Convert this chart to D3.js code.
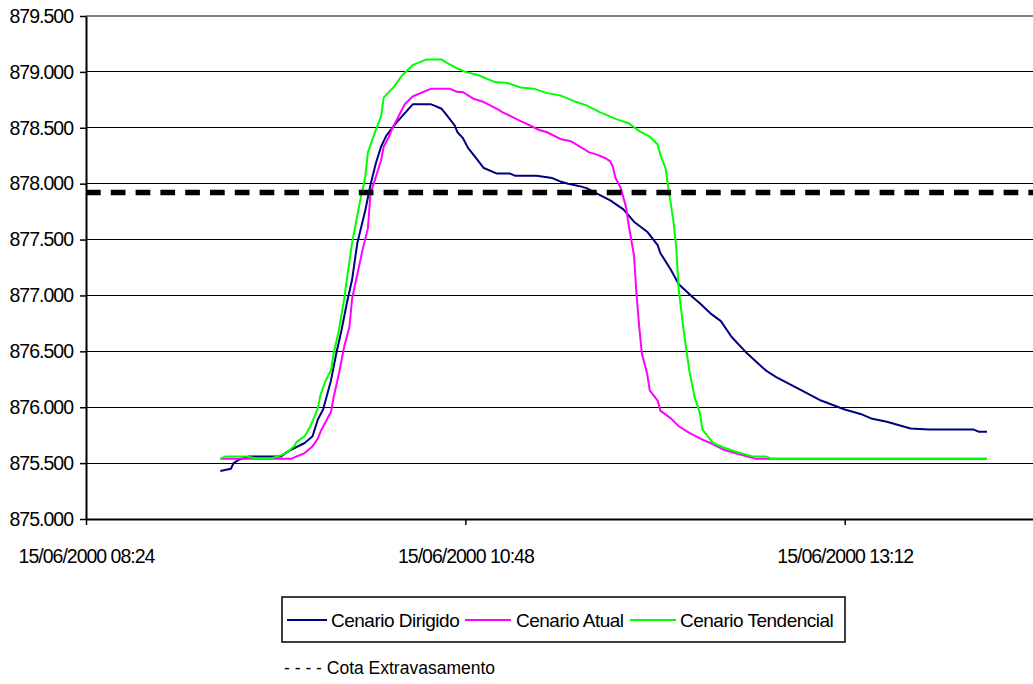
<!DOCTYPE html>
<html><head><meta charset="utf-8">
<script src="https://cdn.jsdelivr.net/npm/d3@7"></script>
<style>
html,body{margin:0;padding:0;background:#fff;}
svg{display:block;font-family:"Liberation Sans",Arial,sans-serif;}
</style></head><body>
<svg id="chart" width="1033" height="684"></svg>
<script>
// ---------------- data ----------------
const dateStr = "2000-06-15";
const xTickLabels = ["08:24", "10:48", "13:12"];
const xDomain = ["08:24", "14:24"];
const yTickValues = [875.0, 875.5, 876.0, 876.5, 877.0, 877.5, 878.0, 878.5, 879.0, 879.5];
const cotaExtravasamento = 877.92;
const seriesNames = ["Cenario Dirigido", "Cenario Atual", "Cenario Tendencial"];
const refLabel = "- - - - Cota Extravasamento";

const dirigidoTimes = ["09:15","09:19","09:20","09:22","09:26","09:38","09:41","09:47","09:50","09:52","09:54","09:57","09:59","10:01","10:03","10:05","10:07","10:10","10:12","10:14","10:16","10:18","10:22","10:28","10:35","10:36","10:39","10:41","10:44","10:45","10:47","10:49","10:52","10:55","11:00","11:05","11:07","11:15","11:21","11:24","11:27","11:31","11:34","11:38","11:43","11:48","11:52","11:57","12:01","12:02","12:06","12:09","12:14","12:17","12:21","12:25","12:29","12:35","12:42","12:46","12:54","13:03","13:12","13:18","13:22","13:28","13:37","13:44","14:01","14:03","14:06"];
const dirigidoValues = [875.43,875.45,875.50,875.53,875.56,875.56,875.61,875.68,875.74,875.89,875.98,876.24,876.48,876.69,876.93,877.14,877.47,877.76,877.99,878.18,878.33,878.43,878.55,878.71,878.71,878.70,878.67,878.61,878.52,878.46,878.41,878.32,878.23,878.14,878.09,878.09,878.07,878.07,878.05,878.02,878.00,877.98,877.96,877.91,877.85,877.77,877.66,877.57,877.45,877.38,877.23,877.10,876.99,876.93,876.84,876.77,876.63,876.48,876.33,876.27,876.17,876.06,875.98,875.94,875.90,875.87,875.81,875.80,875.80,875.78,875.78];

const atualTimes = ["09:15","09:42","09:44","09:47","09:50","09:52","09:53","09:55","09:57","09:58","10:00","10:02","10:04","10:05","10:09","10:11","10:12","10:14","10:16","10:17","10:19","10:20","10:25","10:28","10:35","10:42","10:45","10:47","10:51","10:55","11:00","11:02","11:09","11:11","11:16","11:19","11:24","11:28","11:33","11:35","11:38","11:41","11:43","11:44","11:45","11:47","11:49","11:50","11:52","11:53","11:54","11:55","11:57","11:58","12:01","12:02","12:06","12:09","12:13","12:18","12:21","12:26","12:32","12:38","14:06"];
const atualValues = [875.54,875.54,875.56,875.59,875.65,875.72,875.78,875.87,875.96,876.09,876.30,876.54,876.72,876.97,877.41,877.60,877.91,878.06,878.21,878.33,878.42,878.48,878.71,878.78,878.85,878.85,878.82,878.82,878.76,878.73,878.67,878.64,878.56,878.54,878.48,878.46,878.40,878.38,878.31,878.28,878.26,878.23,878.20,878.15,878.05,877.96,877.79,877.63,877.36,877.00,876.72,876.48,876.30,876.15,876.06,875.97,875.90,875.83,875.77,875.71,875.68,875.62,875.58,875.54,875.54];

const tendencialTimes = ["09:15","09:17","09:25","09:29","09:34","09:38","09:40","09:43","09:44","09:47","09:49","09:52","09:53","09:55","09:57","09:58","10:00","10:02","10:03","10:05","10:08","10:10","10:11","10:14","10:16","10:17","10:21","10:24","10:28","10:33","10:39","10:41","10:45","10:48","10:53","10:59","11:04","11:09","11:14","11:19","11:24","11:29","11:34","11:39","11:45","11:50","11:54","11:58","12:01","12:02","12:04","12:05","12:06","12:07","12:08","12:09","12:11","12:13","12:15","12:17","12:18","12:22","12:26","12:31","12:37","12:42","12:44","14:06"];
const tendencialValues = [875.54,875.56,875.56,875.54,875.54,875.57,875.59,875.65,875.69,875.74,875.82,875.99,876.11,876.24,876.33,876.48,876.69,876.97,877.14,877.47,877.84,878.06,878.28,878.48,878.60,878.77,878.87,878.97,879.06,879.11,879.11,879.08,879.03,879.00,878.97,878.91,878.90,878.86,878.85,878.81,878.79,878.74,878.70,878.64,878.58,878.54,878.47,878.42,878.35,878.26,878.14,877.97,877.82,877.66,877.44,877.05,876.66,876.33,876.09,875.95,875.80,875.68,875.64,875.60,875.56,875.56,875.54,875.54];

const seriesColors = ["#000080", "#FF00FF", "#00FF00"];

// ---------------- chart ----------------
(function () {
const parse = d3.timeParse("%Y-%m-%d %H:%M");
const t = s => parse(dateStr + " " + s);

const mLeft = 86, mRight = 1034.4, mTop = 16, mBottom = 519, visibleRight = 1033;
const x = d3.scaleTime().domain(xDomain.map(t)).range([mLeft, mRight]);
const y = d3.scaleLinear().domain([yTickValues[0], yTickValues[yTickValues.length - 1]]).range([mBottom, mTop]);

const svg = d3.select("#chart");
svg.append("rect").attr("width", 1033).attr("height", 684).attr("fill", "#fff");

// gridlines
const gv = yTickValues.filter(v => v > yTickValues[0]);
svg.append("g").selectAll("line")
  .data(gv)
  .join("line")
  .attr("x1", mLeft).attr("x2", visibleRight)
  .attr("y1", d => y(d)).attr("y2", d => y(d))
  .attr("stroke", (d, i) => i === gv.length - 1 ? "#808080" : "#000")
  .attr("stroke-width", (d, i) => i === gv.length - 1 ? 1.5 : 1)
  .attr("shape-rendering", "crispEdges");

// series
const series = [
  {name: seriesNames[0], times: dirigidoTimes, values: dirigidoValues, color: seriesColors[0]},
  {name: seriesNames[1], times: atualTimes, values: atualValues, color: seriesColors[1]},
  {name: seriesNames[2], times: tendencialTimes, values: tendencialValues, color: seriesColors[2]}
];
const line = d3.line().x(d => x(d.t)).y(d => y(d.v));
series.forEach(s => {
  const pts = s.times.map((tm, i) => ({t: t(tm), v: s.values[i]}));
  svg.append("path").datum(pts)
    .attr("d", line)
    .attr("fill", "none")
    .attr("stroke", s.color)
    .attr("stroke-width", 2)
    .attr("stroke-linejoin", "round");
});

// reference dashed line
svg.append("line")
  .attr("x1", mLeft).attr("x2", visibleRight)
  .attr("y1", y(cotaExtravasamento)).attr("y2", y(cotaExtravasamento))
  .attr("stroke", "#000").attr("stroke-width", 5.5)
  .attr("stroke-dasharray", "14.7,10.1");

// axes
const axisFont = g => g.selectAll("text")
  .attr("font-family", "'Liberation Sans', Arial, sans-serif")
  .attr("font-size", "19.5px")
  .attr("letter-spacing", "-1px")
  .attr("fill", "#000");

const yAxis = svg.append("g").attr("transform", `translate(${mLeft},0)`)
  .call(d3.axisLeft(y).tickValues(yTickValues).tickFormat(d3.format(".3f")).tickSize(6).tickSizeOuter(0).tickPadding(7));
yAxis.select(".domain").attr("stroke", "#000").attr("stroke-width", 2);
yAxis.selectAll(".tick line").attr("stroke", "#000").attr("stroke-width", 1.5);
yAxis.call(axisFont);

const xAxis = svg.append("g").attr("transform", `translate(0,${mBottom})`)
  .call(d3.axisBottom(x).tickValues(xTickLabels.map(t)).tickFormat(d3.timeFormat("%d/%m/%Y %H:%M")).tickSize(6).tickSizeOuter(0).tickPadding(24));
xAxis.select(".domain").attr("stroke", "#000").attr("stroke-width", 2);
xAxis.selectAll(".tick line").attr("stroke", "#000").attr("stroke-width", 1.5);
xAxis.call(axisFont);

// legend
const lg = svg.append("g");
lg.append("rect").attr("x", 282).attr("y", 597).attr("width", 563).attr("height", 45)
  .attr("fill", "#fff").attr("stroke", "#000").attr("stroke-width", 1.5);
const legendItems = [
  {x1: 287, x2: 327, tx: 331},
  {x1: 465, x2: 511, tx: 516},
  {x1: 630, x2: 676, tx: 680}
];
series.forEach((s, i) => {
  const it = legendItems[i];
  lg.append("line").attr("x1", it.x1).attr("x2", it.x2).attr("y1", 620).attr("y2", 620)
    .attr("stroke", s.color).attr("stroke-width", 2);
  lg.append("text").attr("x", it.tx).attr("y", 627)
    .attr("font-size", "19px").attr("letter-spacing", "-0.5px").text(s.name);
});
svg.append("text").attr("x", 284).attr("y", 674)
  .attr("font-size", "17.5px").text(refLabel);
})();
</script>
</body></html>
